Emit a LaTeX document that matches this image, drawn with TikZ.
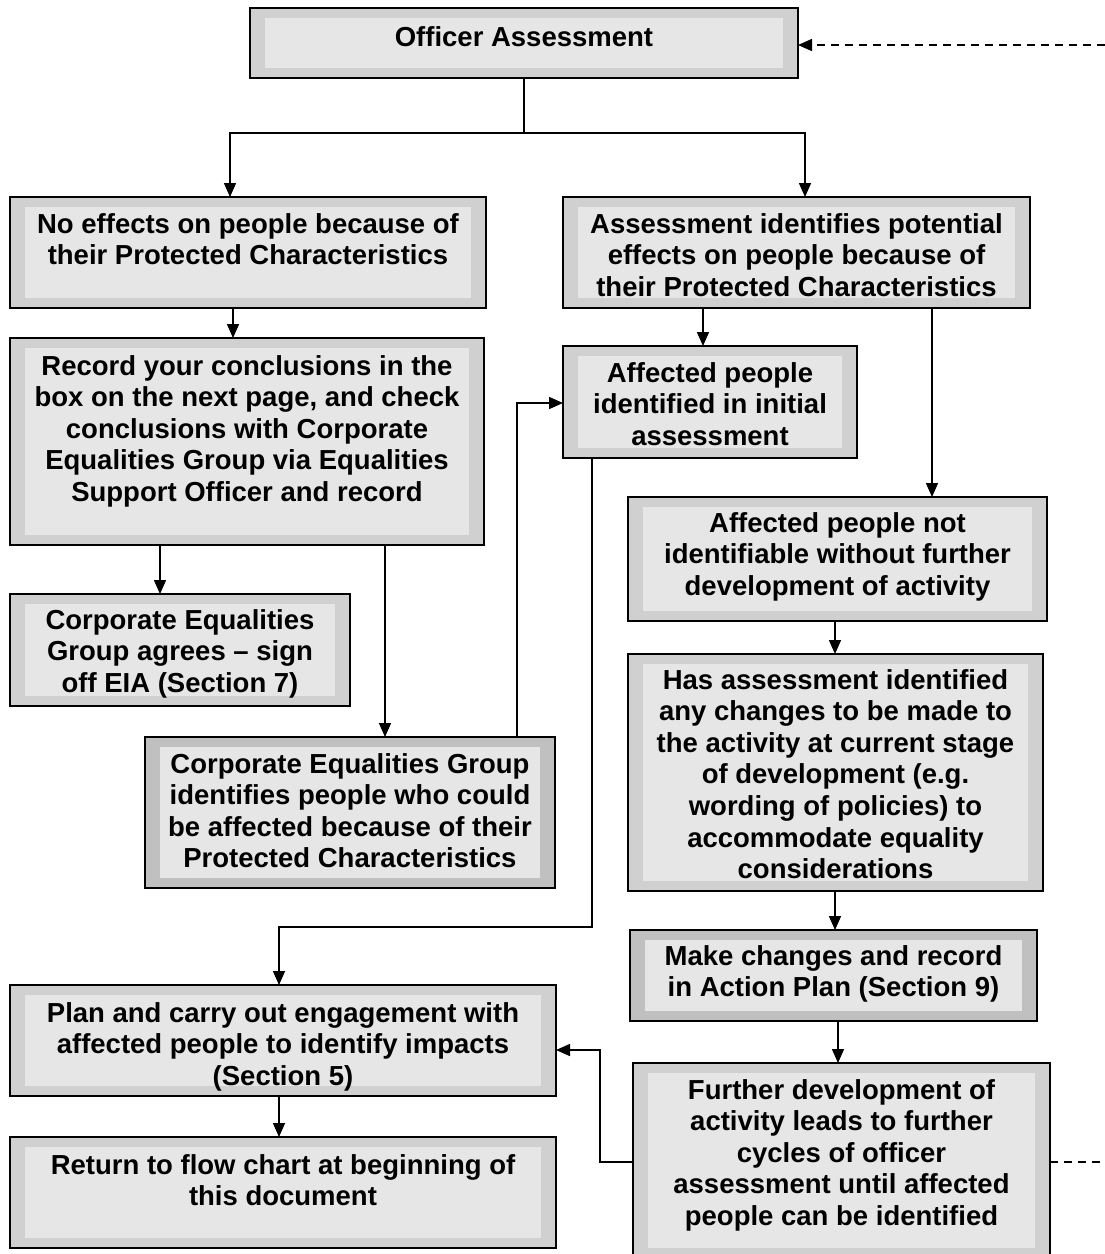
\documentclass[tikz,border=0pt]{standalone}
\usepackage{fontspec}
\setmainfont{Liberation Sans}
\usetikzlibrary{arrows.meta,calc}
\definecolor{innerfill}{RGB}{230,230,230}
\definecolor{bandp}{RGB}{208,208,208}
\definecolor{bands}{RGB}{192,192,192}
\tikzset{
  boxbase/.style={draw=black, line width=1.6pt, inner sep=0pt, outer sep=0pt,
    path picture={\fill[innerfill] ([shift={(15pt,-10pt)}]path picture bounding box.north west) rectangle ([shift={(-15pt,10pt)}]path picture bounding box.south east);}},
  boxp/.style={boxbase, fill=bandp},
  boxs/.style={boxbase, fill=bands},
  txt/.style={inner sep=0pt, outer sep=0pt, anchor=base, font=\fontsize{27.5}{31.6}\selectfont\bfseries},
  ln/.style={line width=1.5pt},
  arr/.style={line width=1.5pt, -{Triangle[length=14pt,width=12pt]}},
  dsh/.style={line width=1.5pt, dash pattern=on 8pt off 6pt},
}
\newcommand\mkbox[6]{%
  \node[#6, minimum width={(#4-#2)*1pt}, minimum height={(#5-#3)*1pt}] (#1) at ({(#2+#4)/2},{(#3+#5)/2}) {};}
\newcommand\mktxt[4]{%
  \node[txt] (#1) at (#2,{#3-2}) {\begin{tabular}[t]{@{}c@{}}#4\end{tabular}};}
\begin{document}
\begin{tikzpicture}[x=1pt,y=-1pt]
\useasboundingbox (0,0) rectangle (1105,1254);
\clip (0,0) rectangle (1105,1254);
% boxes
\mkbox{oa}{250}{8}{798}{78}{boxp}
\mkbox{ne}{10}{197}{486}{308}{boxp}
\mkbox{ai}{563}{197}{1030}{308}{boxp}
\mkbox{rc}{10}{338}{484}{545}{boxp}
\mkbox{ap}{563}{346}{857}{458}{boxp}
\mkbox{an}{628}{497}{1047}{621}{boxp}
\mkbox{cg}{10}{594}{350}{706}{boxp}
\mkbox{ci}{145}{737}{555}{888}{boxs}
\mkbox{pl}{10}{985}{556}{1096}{boxp}
\mkbox{rt}{10}{1137}{556}{1248}{boxp}
\mkbox{ha}{628}{654}{1043}{891}{boxp}
\mkbox{mc}{630}{930}{1037}{1021}{boxs}
\mkbox{fd}{633}{1063}{1050}{1258}{boxp}
% texts
\mktxt{oa-t}{524}{48}{Officer Assessment}
\mktxt{ne-t}{248}{235}{No effects on people because of\\their Protected Characteristics}
\mktxt{ai-t}{796.5}{235}{Assessment identifies potential\\effects on people because of\\their Protected Characteristics}
\mktxt{rc-t}{247}{377}{Record your conclusions in the\\box on the next page, and check\\conclusions with Corporate\\Equalities Group via Equalities\\Support Officer and record}
\mktxt{ap-t}{710}{384}{Affected people\\identified in initial\\assessment}
\mktxt{an-t}{837.5}{534}{Affected people not\\identifiable without further\\development of activity}
\mktxt{cg-t}{180}{631}{Corporate Equalities\\Group agrees -- sign\\off EIA (Section 7)}
\mktxt{ci-t}{350}{775}{Corporate Equalities Group\\identifies people who could\\be affected because of their\\Protected Characteristics}
\mktxt{pl-t}{283}{1024}{Plan and carry out engagement with\\affected people to identify impacts\\(Section 5)}
\mktxt{rt-t}{283}{1176}{Return to flow chart at beginning of\\this document}
\mktxt{ha-t}{835.5}{691}{Has assessment identified\\any changes to be made to\\the activity at current stage\\of development (e.g.\\wording of policies) to\\accommodate equality\\considerations}
\mktxt{mc-t}{833.5}{967}{Make changes and record\\in Action Plan (Section 9)}
\mktxt{fd-t}{841.5}{1101}{Further development of\\activity leads to further\\cycles of officer\\assessment until affected\\people can be identified}
% helper coordinates
\coordinate (split) at (524,133);
\coordinate (xl) at (230,0);
\coordinate (xr) at (805,0);
\coordinate (x1) at (233,0);
\coordinate (x2) at (703,0);
\coordinate (x3) at (932,0);
\coordinate (x4) at (160,0);
\coordinate (x5) at (385,0);
\coordinate (x6) at (517,0);
\coordinate (y6) at (0,403);
\coordinate (x7) at (592,0);
\coordinate (y7) at (0,927);
\coordinate (x8) at (279,0);
\coordinate (x9) at (835,0);
\coordinate (x10) at (838,0);
\coordinate (y11) at (0,1162);
\coordinate (x11) at (600,0);
\coordinate (y12) at (0,1050);
\coordinate (y13) at (0,45);
\coordinate (edgeR) at (1105,0);
% connectors
\draw[ln] (oa.south -| split) -- (split);
\draw[arr] (split) -| (ne.north -| xl);
\draw[arr] (split) -| (ai.north -| xr);
\draw[arr] (ne.south -| x1) -- (rc.north -| x1);
\draw[arr] (ai.south -| x2) -- (ap.north -| x2);
\draw[arr] (ai.south -| x3) -- (an.north -| x3);
\draw[arr] (rc.south -| x4) -- (cg.north -| x4);
\draw[arr] (rc.south -| x5) -- (ci.north -| x5);
\draw[arr] (ci.north -| x6) |- (ap.west |- y6);
\draw[arr] (ap.south -| x7) |- (x8 |- y7) -- (pl.north -| x8);
\draw[arr] (pl.south -| x8) -- (rt.north -| x8);
\draw[arr] (an.south -| x9) -- (ha.north -| x9);
\draw[arr] (ha.south -| x9) -- (mc.north -| x9);
\draw[arr] (mc.south -| x10) -- (fd.north -| x10);
\draw[arr] (fd.west |- y11) -| (x11 |- y12) -- (pl.east |- y12);
\draw[dsh] (fd.east |- y11) -- (edgeR |- y11);
\draw[dsh, -{Triangle[length=14pt,width=12pt]}] (edgeR |- y13) -- (oa.east |- y13);
\end{tikzpicture}
\end{document}
